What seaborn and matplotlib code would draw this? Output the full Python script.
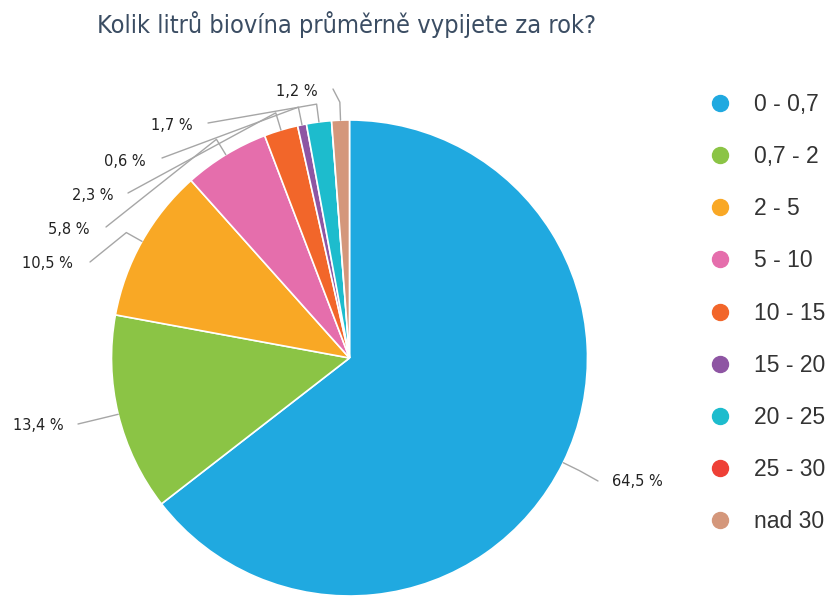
import numpy as np
import matplotlib
matplotlib.use("Agg")
import matplotlib.pyplot as plt
from matplotlib.lines import Line2D
from matplotlib import font_manager
import seaborn as sns

# Survey answers: litres of organic wine drunk per year
categories = ["0 - 0,7", "0,7 - 2", "2 - 5", "5 - 10", "10 - 15",
              "15 - 20", "20 - 25", "25 - 30", "nad 30"]
shares = [64.5, 13.4, 10.5, 5.8, 2.3, 0.6, 1.7, 0.0, 1.2]
colors = ["#20a9e0", "#8bc445", "#f9a825", "#e56eac", "#f2662a",
          "#8e55a3", "#1dbccd", "#ee4036", "#d4977b"]
title = "Kolik litrů biovína průměrně vypijete za rok?"

sns.set_theme(style="white")
palette = sns.color_palette(colors)

# narrow face for the title and slice labels when it is available
cond_path = font_manager.findfont(font_manager.FontProperties(
    family="DejaVu Sans", stretch="condensed"))
has_cond = "Condensed" in cond_path

W, H = 831, 597
fig = plt.figure(figsize=(W / 100, H / 100), dpi=100)
ax = fig.add_axes([0, 0, 1, 1])

# pixel-like coordinates with y pointing up
cx, cy, r = 349.5, H - 358, 238
wedges, _ = ax.pie(shares, colors=palette, startangle=90, counterclock=False,
                   center=(cx, cy), radius=r,
                   wedgeprops=dict(edgecolor="white", linewidth=1.2))
ax.set_xlim(0, W)
ax.set_ylim(0, H)
ax.set_aspect("equal")
ax.axis("off")

# label anchor (line end in pixel coords), text x, text y, alignment
label_layout = {
    0: ((598, 481), 612, 481, "left"),
    1: ((78, 424), 64, 425, "right"),
    2: ((90, 262), 73, 264, "right"),
    3: ((106, 227), 90, 229, "right"),
    4: ((128, 193), 113, 195, "right"),
    5: ((162, 158), 146, 161, "right"),
    6: ((208, 123), 193, 125, "right"),
    8: ((333, 89), 318, 92, "right"),
}

for i, w in enumerate(wedges):
    if shares[i] <= 0 or i not in label_layout:
        continue
    ang = np.deg2rad((w.theta1 + w.theta2) / 2)
    ex, ey = cx + r * np.cos(ang), cy + r * np.sin(ang)
    kx, ky = cx + (r + 18) * np.cos(ang), cy + (r + 18) * np.sin(ang)
    (lx, ly), tx, ty, ha = label_layout[i]
    ax.plot([ex, kx, lx], [ey, ky, H - ly], color="#a6a6a6", lw=1.0,
            solid_joinstyle="round", zorder=1)
    txt = f"{shares[i]:.1f}".replace(".", ",") + " %"
    ax.text(tx, H - ty, txt, ha=ha, va="center",
            fontsize=11.7 if has_cond else 10.6,
            family="DejaVu Sans", fontstretch="condensed", color="#222222")

fig.text(97 / W, 1 - 25 / H, title, ha="left", va="center",
         fontsize=18.2 if has_cond else 16.6, family="DejaVu Sans",
         fontstretch="condensed", color="#3b4d63")

handles = [Line2D([], [], linestyle="none", marker="o", markersize=11.5,
                  markerfacecolor=c, markeredgecolor=c) for c in palette]
leg = fig.legend(handles, categories, loc="upper left",
                 bbox_to_anchor=(701 / W, 1 - 84 / H), frameon=False,
                 prop={"family": "Liberation Sans", "size": 16.5},
                 labelspacing=1.27, handletextpad=1.05, handlelength=0.85,
                 borderaxespad=0)
for t in leg.get_texts():
    t.set_color("#333333")

fig.savefig("out.png", dpi=100)
